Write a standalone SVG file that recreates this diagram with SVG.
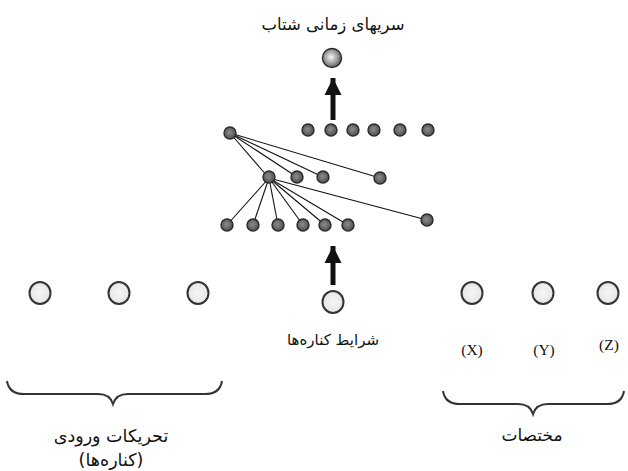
<svg xmlns="http://www.w3.org/2000/svg" width="628" height="471" viewBox="0 0 628 471">
  <defs>
    <radialGradient id="darkBall" cx="0.45" cy="0.45" r="0.6">
      <stop offset="0" stop-color="#8c8c8c"/>
      <stop offset="1" stop-color="#4a4a4a"/>
    </radialGradient>
    <radialGradient id="bigBall" cx="0.45" cy="0.45" r="0.6">
      <stop offset="0" stop-color="#f4f4f4"/>
      <stop offset="0.55" stop-color="#a0a0a0"/>
      <stop offset="1" stop-color="#4e4e4e"/>
    </radialGradient>
    <radialGradient id="lightBall" cx="0.5" cy="0.5" r="0.6">
      <stop offset="0" stop-color="#f6f6f6"/>
      <stop offset="1" stop-color="#e2e2e2"/>
    </radialGradient>
    <marker id="head" viewBox="0 0 10 10" refX="10" refY="5" markerWidth="3.4" markerHeight="3.6" markerUnits="strokeWidth" orient="auto">
      <path d="M0,0 L10,5 L0,10 z" fill="#111"/>
    </marker>
  </defs>
  <style>
    .fa { font-family: "DejaVu Sans", sans-serif; font-size: 16px; fill: #111; text-anchor: middle; }
    .lat { font-family: "Liberation Serif", serif; font-size: 15.5px; fill: #111; text-anchor: middle; }
    .dk { fill: url(#darkBall); stroke: #2a2a2a; stroke-width: 1.4; }
    .lt { fill: url(#lightBall); stroke: #333; stroke-width: 2; }
    .edge { stroke: #111; stroke-width: 1.1; fill: none; }
    .arrow { stroke: #111; stroke-width: 5; fill: none; }
    .brace { stroke: #333; stroke-width: 2; fill: none; }
  </style>

  <!-- labels -->
  <text class="fa" x="333" y="30" style="font-size:16.5px">سریهای زمانی شتاب</text>
  <text class="fa" x="333" y="345" style="font-size:15px">شرایط کناره‌ها</text>
  <text class="lat" x="472" y="355">(X)</text>
  <text class="lat" x="544" y="355">(Y)</text>
  <text class="lat" x="609" y="350">(Z)</text>
  <text class="fa" x="111" y="442" style="font-size:17.5px">تحریکات ورودی</text>
  <text class="fa" x="111" y="466" style="font-size:17.5px">(کناره‌ها)</text>
  <text class="fa" x="532" y="441" style="font-size:17px">مختصات</text>

  <!-- connectors -->
  <g id="connectors">
    <line class="edge" x1="230" y1="133" x2="268" y2="177"/>
    <line class="edge" x1="230" y1="133" x2="297" y2="177"/>
    <line class="edge" x1="230" y1="133" x2="323" y2="177"/>
    <line class="edge" x1="230" y1="133" x2="380" y2="178"/>
    <line class="edge" x1="269" y1="178" x2="227" y2="225"/>
    <line class="edge" x1="269" y1="178" x2="253" y2="225"/>
    <line class="edge" x1="269" y1="178" x2="278" y2="225"/>
    <line class="edge" x1="269" y1="178" x2="303" y2="225"/>
    <line class="edge" x1="269" y1="178" x2="325" y2="225"/>
    <line class="edge" x1="269" y1="178" x2="348" y2="225"/>
    <line class="edge" x1="269" y1="178" x2="427" y2="220"/>
    <line class="arrow" x1="333" y1="120" x2="333" y2="78" marker-end="url(#head)"/>
    <line class="arrow" x1="333" y1="285" x2="333" y2="246" marker-end="url(#head)"/>
  </g>

  <!-- output node -->
  <g id="out"><circle class="dk" style="fill:url(#bigBall)" cx="332" cy="58" r="9.5"/></g>

  <!-- top row -->
  <g id="r1">
    <circle class="dk" cx="308" cy="130" r="6"/>
    <circle class="dk" cx="331" cy="130" r="6"/>
    <circle class="dk" cx="353" cy="130" r="6"/>
    <circle class="dk" cx="374" cy="130" r="6"/>
    <circle class="dk" cx="400" cy="130" r="6"/>
    <circle class="dk" cx="428" cy="130" r="6"/>
  </g>
  <g id="hub1"><circle class="dk" cx="230" cy="133" r="6"/></g>

  <!-- middle row -->
  <g id="hub2"><circle class="dk" cx="269" cy="177" r="6"/></g>
  <g id="r2">
    <circle class="dk" cx="297" cy="177" r="6"/>
    <circle class="dk" cx="323" cy="177" r="6"/>
    <circle class="dk" cx="380" cy="178" r="6"/>
  </g>

  <!-- bottom row -->
  <g id="r3">
    <circle class="dk" cx="227" cy="225" r="6"/>
    <circle class="dk" cx="253" cy="225" r="6"/>
    <circle class="dk" cx="278" cy="225" r="6"/>
    <circle class="dk" cx="303" cy="225" r="6"/>
    <circle class="dk" cx="325" cy="225" r="6"/>
    <circle class="dk" cx="348" cy="225" r="6"/>
    <circle class="dk" cx="427" cy="220" r="6"/>
  </g>

  <!-- input layer -->
  <g id="in-excitation">
    <ellipse class="lt" cx="40" cy="293" rx="10.5" ry="11"/>
    <ellipse class="lt" cx="119" cy="293" rx="10.5" ry="11"/>
    <ellipse class="lt" cx="198" cy="293" rx="10.5" ry="11"/>
  </g>
  <g id="in-boundary"><ellipse class="lt" cx="333" cy="302" rx="10.5" ry="11"/></g>
  <g id="in-coords">
    <ellipse class="lt" cx="472" cy="293" rx="10.5" ry="11"/>
    <ellipse class="lt" cx="543" cy="293" rx="10.5" ry="11"/>
    <ellipse class="lt" cx="608" cy="293" rx="10.5" ry="11"/>
  </g>

  <!-- braces -->
  <path class="brace" d="M7,381 Q9,394 24,394 L98,394 Q110,394 113,404 Q116,394 128,394 L205,394 Q220,394 222,381"/>
  <path class="brace" d="M443,391 Q445,404 460,404 L518,404 Q530,404 533,414 Q536,404 548,404 L607,404 Q622,404 624,391"/>
</svg>
